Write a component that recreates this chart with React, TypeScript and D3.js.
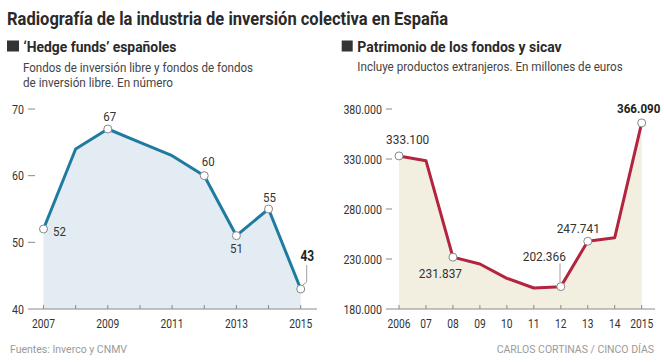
import React from 'react'
import * as d3 from 'd3'

// 'Hedge funds' españoles
const hfYears = [2007, 2008, 2009, 2010, 2011, 2012, 2013, 2014, 2015]
const hfValues = [52, 64, 67, 65, 63, 60, 51, 55, 43]
const hfTicks = [40, 50, 60, 70]
const hfLabelYears = [2007, 2009, 2011, 2013, 2015]

// Patrimonio de los fondos y sicav
const patYears = [2006, 2007, 2008, 2009, 2010, 2011, 2012, 2013, 2014, 2015]
const patValues = [333100, 328300, 231837, 225000, 210700, 201000, 202366, 247741, 251300, 366090]
const patTicks = [180000, 230000, 280000, 330000, 380000]
const patYearLabels = ['2006', '07', '08', '09', '10', '11', '12', '13', '14', '2015']

const FONT = "Roboto, 'Liberation Sans', sans-serif"
const esFormat = d3.formatLocale({ decimal: ',', thousands: '.', grouping: [3], currency: ['', '€'] }).format(',d')

// condensed text: the original uses a narrow face, so squeeze horizontally
const T = ({ x, y, sx = 0.85, anchor = 'start', size = 12.5, bold = false, fill = '#333', children }: any) => (
    <text transform={`translate(${x},${y}) scale(${sx},1)`} textAnchor={anchor} fontSize={size}
        fontWeight={bold ? 'bold' : 'normal'} fill={fill}>{children}</text>
)

const App = () => {
    // left chart scales
    const xL = d3.scaleLinear().domain([2007, 2015]).range([43.5, 300.7])
    const yL = d3.scaleLinear().domain([40, 70]).range([309, 109])
    // right chart scales
    const xR = d3.scaleLinear().domain([2006, 2015]).range([399, 641.7])
    const yR = d3.scaleLinear().domain([180000, 380000]).range([309, 109])

    const hfData = hfYears.map((y, i) => [y, hfValues[i]] as [number, number])
    const patData = patYears.map((y, i) => [y, patValues[i]] as [number, number])

    const lineL = d3.line<[number, number]>().x(d => xL(d[0])).y(d => yL(d[1]))
    const areaL = d3.area<[number, number]>().x(d => xL(d[0])).y0(yL(40)).y1(d => yL(d[1]))
    const lineR = d3.line<[number, number]>().x(d => xR(d[0])).y(d => yR(d[1]))
    const areaR = d3.area<[number, number]>().x(d => xR(d[0])).y0(yR(180000)).y1(d => yR(d[1]))

    const axisColor = '#8a8a8a'

    // labelled points: [year, value, dx, dy, bold]
    const hfMarks: [number, number, number, number, boolean][] = [
        [2007, 52, 16, 7, false],
        [2009, 67, 2, -8.5, false],
        [2012, 60, 4, -9.5, false],
        [2013, 51, 0, 17.5, false],
        [2014, 55, 1, -7.5, false],
        [2015, 43, 6.6, -28, true],
    ]
    const patMarks: [number, number, number, number, boolean][] = [
        [2006, 333100, 8.7, -12, false],
        [2008, 231837, -12.5, 20.5, false],
        [2012, 202366, -16.5, -26, false],
        [2013, 247741, -9.5, -8, false],
        [2015, 366090, -3, -9.7, true],
    ]

    return (
        <svg width={664} height={362} style={{ position: 'absolute', left: 0, top: 0, background: '#fff' }} fontFamily={FONT}>
            {/* headers */}
            <text x={7} y={25} fontSize={18} fontWeight="bold" fill="#2a2a2a" textLength={441} lengthAdjust="spacingAndGlyphs">Radiografía de la industria de inversión colectiva en España</text>
            <rect x={7} y={40.5} width={12} height={11} fill="#333" />
            <text x={23.5} y={51.7} fontSize={15.5} fontWeight="bold" fill="#2a2a2a" textLength={153} lengthAdjust="spacingAndGlyphs">‘Hedge funds’ españoles</text>
            <text x={23} y={72} fontSize={12.5} fill="#444" textLength={230} lengthAdjust="spacingAndGlyphs">Fondos de inversión libre y fondos de fondos</text>
            <text x={23} y={87.3} fontSize={12.5} fill="#444" textLength={150} lengthAdjust="spacingAndGlyphs">de inversión libre. En número</text>
            <rect x={341.7} y={40.5} width={11} height={11} fill="#333" />
            <text x={357.3} y={51.7} fontSize={15.5} fontWeight="bold" fill="#2a2a2a" textLength={204.4} lengthAdjust="spacingAndGlyphs">Patrimonio de los fondos y sicav</text>
            <text x={357.3} y={71} fontSize={12.5} fill="#444" textLength={265.4} lengthAdjust="spacingAndGlyphs">Incluye productos extranjeros. En millones de euros</text>

            {/* left chart */}
            <path d={areaL(hfData) || ''} fill="#e3ecf2" />
            {hfTicks.map(t => (
                <g key={t}>
                    <line x1={28} x2={t === 40 ? 28 : 35} y1={yL(t)} y2={yL(t)} stroke={axisColor} />
                    <T x={24} y={yL(t) + 4.5} anchor="end">{t}</T>
                </g>
            ))}
            <line x1={28} x2={317} y1={yL(40)} y2={yL(40)} stroke={axisColor} />
            {hfYears.map(y => (
                <line key={y} x1={xL(y)} x2={xL(y)} y1={yL(40)} y2={yL(40) - 4} stroke={axisColor} />
            ))}
            {hfLabelYears.map(y => (
                <T key={y} x={xL(y)} y={328} anchor="middle" sx={0.82}>{y}</T>
            ))}
            <path d={lineL(hfData) || ''} fill="none" stroke="#1f7ba0" strokeWidth={3} strokeLinejoin="round" />
            <polyline points={`${xL(2015) + 1},${yL(43) - 3} ${xL(2015) + 6},${yL(43) - 7} ${xL(2015) + 6},${yL(43) - 24}`} fill="none" stroke="#888" strokeWidth={0.8} />
            {hfMarks.map(([y, v, dx, dy, bold]) => (
                <g key={y}>
                    <circle cx={xL(y)} cy={yL(v)} r={4} fill="#fff" stroke="#888" strokeWidth={1} />
                    <T x={xL(y) + dx} y={yL(v) + dy} anchor="middle" size={bold ? 14 : 13.5} bold={bold} fill={bold ? '#222' : '#333'}>{v}</T>
                </g>
            ))}

            {/* right chart */}
            <path d={areaR(patData) || ''} fill="#f3efe0" />
            {patTicks.map(t => (
                <g key={t}>
                    <line x1={386} x2={t === 180000 ? 386 : 392} y1={yR(t)} y2={yR(t)} stroke={axisColor} />
                    <T x={382} y={yR(t) + 4.5} anchor="end">{esFormat(t)}</T>
                </g>
            ))}
            <line x1={386} x2={655} y1={yR(180000)} y2={yR(180000)} stroke={axisColor} />
            {patYears.map((y, i) => (
                <g key={y}>
                    <line x1={xR(y)} x2={xR(y)} y1={yR(180000)} y2={yR(180000) - 4} stroke={axisColor} />
                    <T x={xR(y)} y={328} anchor="middle" sx={0.82}>{patYearLabels[i]}</T>
                </g>
            ))}
            <path d={lineR(patData) || ''} fill="none" stroke="#b3243f" strokeWidth={3} strokeLinejoin="round" />
            <line x1={xR(2012) - 0.8} x2={xR(2012) - 0.8} y1={yR(202366) - 4} y2={yR(202366) - 23} stroke="#888" strokeWidth={0.8} />
            {patMarks.map(([y, v, dx, dy, bold]) => (
                <g key={y}>
                    <circle cx={xR(y)} cy={yR(v)} r={4} fill="#fff" stroke="#888" strokeWidth={1} />
                    <T x={xR(y) + dx} y={yR(v) + dy} anchor="middle" size={bold ? 13.5 : 13.5} bold={bold} fill={bold ? '#222' : '#333'} sx={bold ? 0.86 : 0.88}>{esFormat(v)}</T>
                </g>
            ))}

            {/* footer */}
            <text x={10} y={353.3} fontSize={11} fill="#9a9a9a" textLength={117} lengthAdjust="spacingAndGlyphs">Fuentes: Inverco y CNMV</text>
            <text x={496.7} y={353.3} fontSize={11} fill="#9a9a9a" textLength={157.3} lengthAdjust="spacingAndGlyphs">CARLOS CORTINAS / CINCO DÍAS</text>
        </svg>
    )
}

export default App
